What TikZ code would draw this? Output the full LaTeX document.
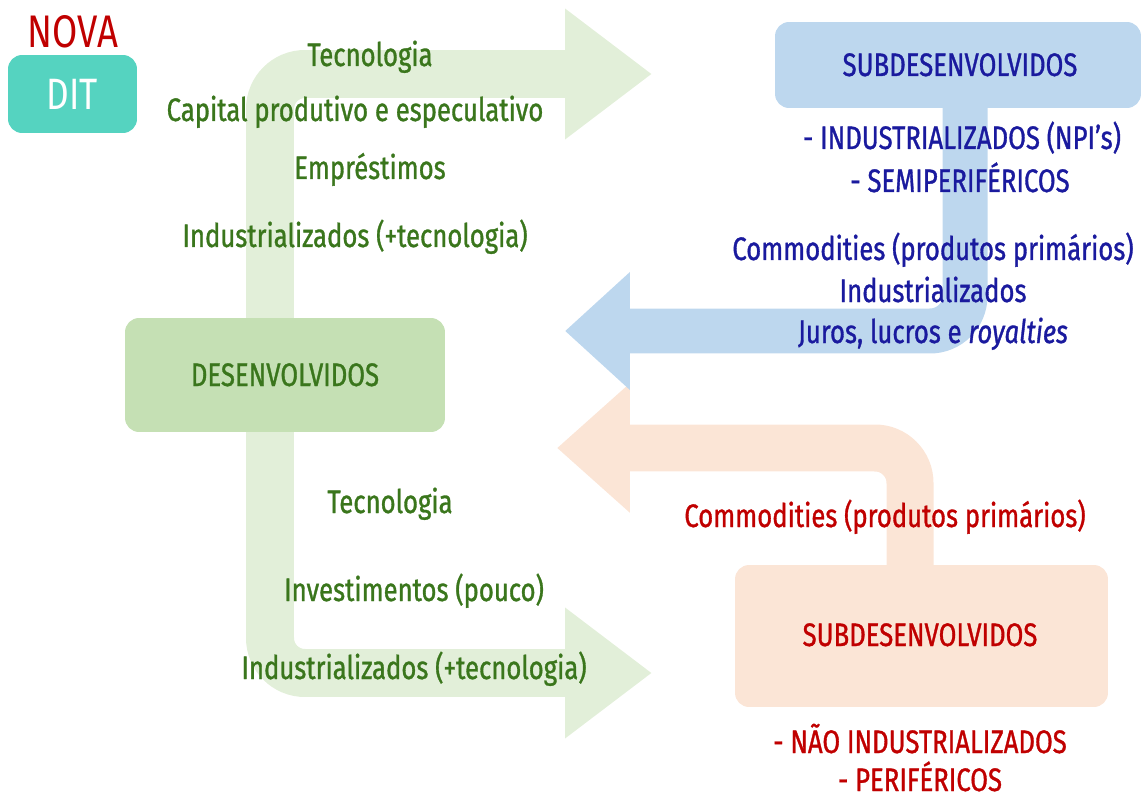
\documentclass[tikz,border=0pt]{standalone}
\usepackage{fontspec}
\setmainfont{Fira Sans}[FakeStretch=0.8]
\newfontfamily\labfam{Fira Sans}[FakeStretch=0.79, FakeBold=1]
\usetikzlibrary{arrows.meta}

\definecolor{greenband}{HTML}{E2EFD9}
\definecolor{greenbox}{HTML}{C5E0B4}
\definecolor{greentext}{HTML}{3A761C}
\definecolor{blueband}{HTML}{BDD7EE}
\definecolor{bluetext}{HTML}{1A1A9E}
\definecolor{peachband}{HTML}{FBE5D6}
\definecolor{redtext}{HTML}{C00000}
\definecolor{teal}{HTML}{55D3C0}

\begin{document}
\begin{tikzpicture}[
    x=0.02cm, y=-0.02cm,
    box/.style={rectangle, rounded corners=8pt, inner sep=0pt},
    flow/.style={line cap=butt, rounded corners=0.7cm},
    lab/.style={anchor=base, inner sep=0pt, font=\labfam\fontsize{18.5}{21}\selectfont},
    glab/.style={lab, text=greentext},
    blab/.style={lab, text=bluetext},
    rlab/.style={lab, text=redtext}
]
    \useasboundingbox (0,0) rectangle (1143,797);

    % green double arrow
    \coordinate (gtop) at (652,74);
    \coordinate (gtl) at (270,74);
    \coordinate (gbl) at (270,673);
    \coordinate (gbot) at (652,673);
    \draw[flow, greenband, line width=0.96cm,
        {Triangle[length=1.74cm, width=2.5cm]}-{Triangle[length=1.74cm, width=2.5cm]}]
        (gtop) -- (gtl) -- (gbl) -- (gbot);

    % peach arrow
    \coordinate (pstart) at (910,570);
    \coordinate (pcorner) at (910,448);
    \coordinate (ptip) at (557,448);
    \draw[flow, peachband, line width=0.94cm, -{Triangle[length=1.46cm, width=2.5cm]}]
        (pstart) -- (pcorner) -- (ptip);

    % blue arrow
    \coordinate (bstart) at (965,100);
    \coordinate (bcorner) at (965,331);
    \coordinate (btip) at (565,331);
    \draw[flow, blueband, line width=0.9cm, -{Triangle[length=1.3cm, width=2.28cm]}]
        (bstart) -- (bcorner) -- (btip);

    % boxes
    \node[box, fill=teal, minimum width=2.58cm, minimum height=1.56cm,
        text=white, font=\fontsize{25}{28}\selectfont] (dit) at (72.5,94) {DIT};
    \node[anchor=base, text=redtext, font=\fontsize{26}{30}\selectfont] (nova) at (73,48) {NOVA};
    \node[box, fill=greenbox, minimum width=6.4cm, minimum height=2.28cm] (des) at (285,375) {};
    \node[box, fill=blueband, minimum width=7.32cm, minimum height=1.72cm] (subb) at (958,65) {};
    \node[box, fill=peachband, minimum width=7.46cm, minimum height=2.84cm] (subr) at (921.5,636) {};

    % labels
    \node[glab] (desl) at (285,386) {DESENVOLVIDOS};
    \node[glab] (g1) at (370,66) {Tecnologia};
    \node[glab] (g2) at (355,121) {Capital produtivo e especulativo};
    \node[glab] (g3) at (370,179) {Empréstimos};
    \node[glab] (g4) at (355,247) {Industrializados (+tecnologia)};
    \node[glab] (g5) at (390,513) {Tecnologia};
    \node[glab] (g6) at (414,601) {Investimentos (pouco)};
    \node[glab] (g7) at (414,679) {Industrializados (+tecnologia)};

    \node[blab] (subbl) at (960,76) {SUBDESENVOLVIDOS};
    \node[blab] (b1) at (962,149) {- INDUSTRIALIZADOS (NPI’s)};
    \node[blab] (b2) at (960,192) {- SEMIPERIFÉRICOS};
    \node[blab] (b3) at (933,260) {Commodities (produtos primários)};
    \node[blab] (b4) at (933,302) {Industrializados};
    \node[blab] (b5) at (933,343) {Juros, lucros e {\itshape royalties}};

    \node[rlab] (r1) at (885,527) {Commodities (produtos primários)};
    \node[rlab] (subrl) at (920,646) {SUBDESENVOLVIDOS};
    \node[rlab] (r2) at (920,753) {- NÃO INDUSTRIALIZADOS};
    \node[rlab] (r3) at (920,791) {- PERIFÉRICOS};
\end{tikzpicture}
\end{document}
